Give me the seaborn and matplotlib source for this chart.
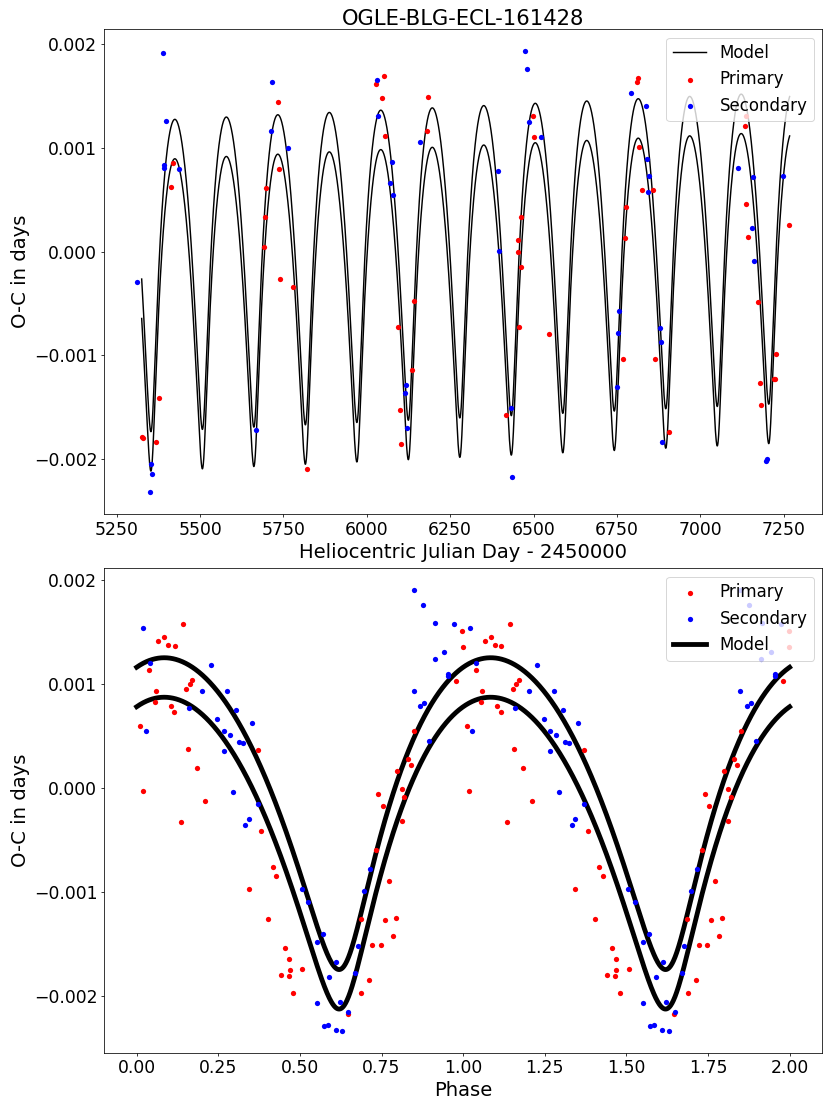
import numpy as np
import pandas as pd
import matplotlib
matplotlib.use("Agg")
import matplotlib.pyplot as plt
from matplotlib.ticker import MultipleLocator
import seaborn as sns

# eclipse timings, HJD - 2450000 and O-C in days
prim_hjd = [5325, 5329, 5367, 5378, 5413, 5420, 5691, 5694, 5697, 5735,
            5738, 5741, 5779, 5820, 6028.5, 6047, 6051, 6054, 6095, 6101,
            6103, 6135, 6142, 6180, 6183, 6416, 6452, 6454, 6457, 6461,
            6463, 6498, 6501, 6545, 6769, 6773, 6776, 6811, 6814, 6817,
            6825, 6858, 6863, 6907, 7133, 7136, 7138, 7142, 7174, 7180,
            7182, 7221, 7225, 7227, 7267]
prim_oc = [-0.001790, -0.001800, -0.001837, -0.001407, 0.000620, 0.000852,
           0.000048, 0.000337, 0.000611, 0.001443, 0.000794, -0.000260,
           -0.000343, -0.002094, 0.001620, 0.001481, 0.001693, 0.001112,
           -0.000729, -0.001523, -0.001857, -0.001140, -0.000475, 0.001163,
           0.001488, -0.001574, 0.000110, -0.000003, -0.000729, 0.000337,
           -0.000147, 0.001311, 0.001106, -0.000790, -0.001034, 0.000132,
           0.000434, 0.001633, 0.001677, 0.001012, 0.000598, 0.000595,
           -0.001037, -0.001735, 0.001214, 0.001305, 0.000457, 0.000139,
           -0.000488, -0.001268, -0.001478, -0.001230, -0.001230, -0.000986,
           0.000260]

sec_hjd = [5310, 5351, 5353, 5357, 5388, 5391, 5393, 5398, 5436, 5669,
           5713, 5716, 5763, 6032, 6035, 6070, 6076, 6079, 6114, 6117,
           6120, 6160, 6392, 6395, 6432, 6435, 6473, 6479, 6485, 6523,
           6751, 6754, 6757, 6792, 6836, 6839, 6842, 6845, 6879, 6882,
           6886, 7114, 7155, 7158, 7161, 7198, 7200, 7248]
sec_oc = [-0.000289, -0.002316, -0.002050, -0.002140, 0.001918, 0.000810,
          0.000836, 0.001263, 0.000794, -0.001720, 0.001160, 0.001639,
          0.001003, 0.001652, 0.001311, 0.000659, 0.000862, 0.000547,
          -0.001362, -0.001282, -0.001696, 0.001060, 0.000781, 0.000007,
          -0.001510, -0.002169, 0.001931, 0.001761, 0.001247, 0.001108,
          -0.001307, -0.000781, -0.000569, 0.001530, 0.001404, 0.000890,
          0.000578, 0.000730, -0.000738, -0.000870, -0.001834, 0.000807,
          0.000228, 0.000717, -0.000087, -0.002017, -0.002000, 0.000733]

# light-travel-time model
period = 154.39
t_zero = 6183.3
ecc = 0.55
omega = 284.0
phase_at_min = 0.62
model_min = -0.00175
model_amp = 0.0030
model_gap = 0.00038
trend_slope = 1.43e-7
trend_ref = 5250.0
model_start = 5325
model_end = 7268


def ltte_shape(mean_anom):
    E = np.array(mean_anom, dtype=float)
    for _ in range(60):
        E = E - (E - ecc * np.sin(E) - mean_anom) / (1 - ecc * np.cos(E))
    nu = 2 * np.arctan2(np.sqrt(1 + ecc) * np.sin(E / 2),
                        np.sqrt(1 - ecc) * np.cos(E / 2))
    return (1 - ecc**2) / (1 + ecc * np.cos(nu)) * np.sin(nu + np.radians(omega))


m_grid = np.linspace(0, 2 * np.pi, 4001)
z_grid = ltte_shape(m_grid)
m_min = m_grid[np.argmin(z_grid)]
z_lo, z_hi = z_grid.min(), z_grid.max()


def model(phase):
    z = ltte_shape(2 * np.pi * (phase - phase_at_min) + m_min)
    return model_min + model_amp * (z - z_lo) / (z_hi - z_lo)


def fold(t):
    return ((np.asarray(t) - t_zero) / period) % 1.0


def trend(t):
    return trend_slope * (np.asarray(t) - trend_ref)


prim = pd.DataFrame({"hjd": prim_hjd, "oc": prim_oc})
sec = pd.DataFrame({"hjd": sec_hjd, "oc": sec_oc})
for df in (prim, sec):
    df["phase"] = fold(df["hjd"])
    df["oc_det"] = df["oc"] - trend(df["hjd"])

t_grid = np.linspace(model_start, model_end, 4000)
top_up = model(fold(t_grid)) + trend(t_grid)
top_lo = top_up - model_gap

ph_grid = np.linspace(0, 2, 2001)
bot_up = model(ph_grid)
bot_lo = bot_up - model_gap

dpi = 69.1875
fig = plt.figure(figsize=(12, 16))
ax1 = fig.add_axes([0.1253, 0.5357, 0.8651, 0.4379])
ax2 = fig.add_axes([0.1253, 0.0490, 0.8651, 0.4376])

# top: O-C against time
sns.lineplot(x=t_grid, y=top_up, ax=ax1, color="black", lw=1.5,
             sort=False, estimator=None, label="Model")
sns.lineplot(x=t_grid, y=top_lo, ax=ax1, color="black", lw=1.5,
             sort=False, estimator=None)
sns.scatterplot(data=prim, x="hjd", y="oc", ax=ax1, color="red", s=30,
                linewidth=0, label="Primary", zorder=3)
sns.scatterplot(data=sec, x="hjd", y="oc", ax=ax1, color="blue", s=30,
                linewidth=0, label="Secondary", zorder=3)
ax1.legend(loc="upper right", fontsize=17.3)
ax1.set_title("OGLE-BLG-ECL-161428", fontsize=22, pad=4)
ax1.set_xlabel("Heliocentric Julian Day - 2450000", fontsize=20.5)
ax1.set_ylabel("O-C in days", fontsize=20.5)
ax1.xaxis.set_major_locator(MultipleLocator(250))

# bottom: phase folded, trend removed
for df, col, lab in ((prim, "red", "Primary"), (sec, "blue", "Secondary")):
    both = pd.DataFrame({"phase": np.concatenate([df["phase"], df["phase"] + 1]),
                         "oc": np.concatenate([df["oc_det"], df["oc_det"]])})
    sns.scatterplot(data=both, x="phase", y="oc", ax=ax2, color=col, s=30,
                    linewidth=0, label=lab, zorder=3)
sns.lineplot(x=ph_grid, y=bot_up, ax=ax2, color="black", lw=5,
             sort=False, estimator=None, label="Model", zorder=2)
sns.lineplot(x=ph_grid, y=bot_lo, ax=ax2, color="black", lw=5,
             sort=False, estimator=None, zorder=2)
handles, labels = ax2.get_legend_handles_labels()
order = [labels.index(k) for k in ("Primary", "Secondary", "Model")]
ax2.legend([handles[i] for i in order], [labels[i] for i in order],
           loc="upper right", fontsize=17.3)
ax2.set_xlabel("Phase", fontsize=20.5)
ax2.set_ylabel("O-C in days", fontsize=20.5)
ax2.xaxis.set_major_locator(MultipleLocator(0.25))

for ax in (ax1, ax2):
    ax.set_yticks([-0.002, -0.001, 0.0, 0.001, 0.002])
    ax.tick_params(labelsize=18)

fig.savefig("out.png", dpi=dpi)
